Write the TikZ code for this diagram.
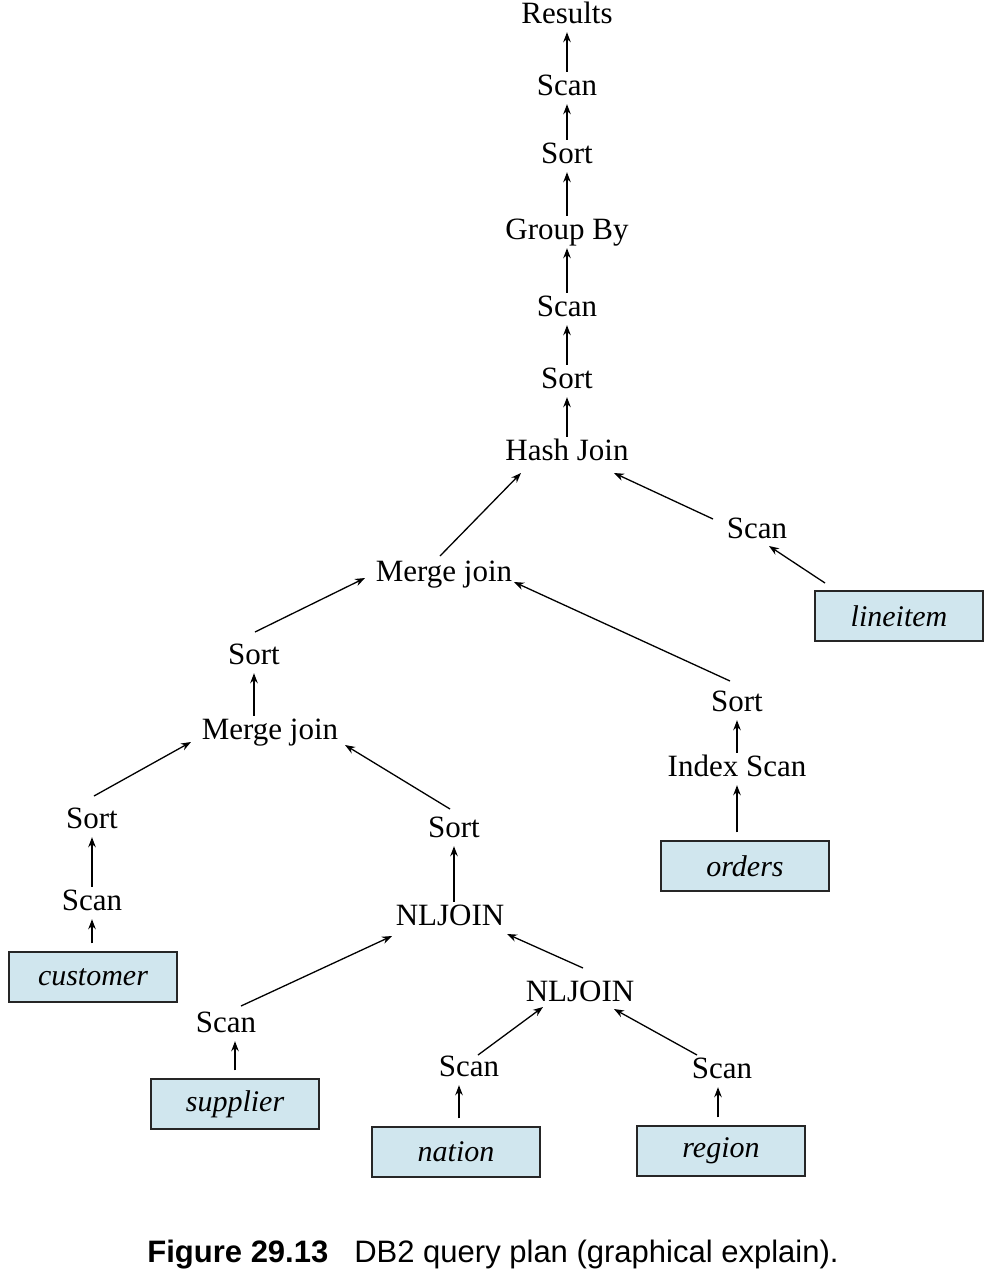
\documentclass[tikz,border=0pt]{standalone}
\usepackage{fontspec}
\setmainfont{Liberation Serif}
\setsansfont{Liberation Sans}
\usetikzlibrary{arrows.meta}
\definecolor{relblue}{HTML}{D0E6EE}
\begin{document}
\begin{tikzpicture}[
    x=1pt, y=-1pt,
    op/.style={
        inner sep=0pt,
        minimum height=32pt,
        text height=21pt,
        text depth=6pt,
        font=\fontsize{31}{36}\selectfont
    },
    rel/.style={
        rectangle,
        draw=black!85,
        line width=1.1pt,
        fill=relblue,
        minimum width=168pt,
        minimum height=50pt,
        font=\fontsize{30}{35}\selectfont\itshape
    },
    arr/.style={->, >={Stealth[length=10pt,width=7.5pt]}, line width=1.3pt},
    fromrel/.style={arr, shorten <=8pt}
]
\useasboundingbox (0,0) rectangle (992,1280);

% main chain
\node[op] (res) at (567,16) {Results};
\node[op] (sc1) at (567,88) {Scan};
\node[op] (so1) at (567,156) {Sort};
\node[op] (grp) at (567,232) {Group By};
\node[op] (sc2) at (567,309) {Scan};
\node[op] (so2) at (567,381) {Sort};
\node[op] (hj) at (567,453) {Hash Join};

% lineitem side
\node[op] (scl) at (757,531) {Scan};
\node[rel] (lin) at (899,616) {lineitem};

% merge joins
\node[op] (mj1) at (444,574) {Merge join};
\node[op] (so3) at (254,657) {Sort};
\node[op] (mj2) at (270,732) {Merge join};

% orders side
\node[op] (soo) at (737,704) {Sort};
\node[op] (isc) at (737,769) {Index Scan};
\node[rel] (ord) at (745,866) {orders};

% customer side
\node[op] (sol) at (92,821) {Sort};
\node[op] (scc) at (92,903) {Scan};
\node[rel] (cus) at (93,977) {customer};

% nested loop joins
\node[op] (sor) at (454,830) {Sort};
\node[op] (nl1) at (450,918) {NLJOIN};
\node[op] (scs) at (226,1025) {Scan};
\node[rel] (sup) at (235,1104) {supplier};
\node[op] (nl2) at (580,994) {NLJOIN};
\node[op] (scn) at (469,1069) {Scan};
\node[rel] (nat) at (456,1152) {nation};
\node[op] (scr) at (722,1071) {Scan};
\node[rel] (reg) at (721,1151) {region};

% vertical arrows
\draw[arr] (sc1) -- (res);
\draw[arr] (so1) -- (sc1);
\draw[arr] (grp) -- (so1);
\draw[arr] (sc2) -- (grp);
\draw[arr] (so2) -- (sc2);
\draw[arr] (hj) -- (so2);
\draw[arr] (mj2.north -| so3) -- (so3.south);
\draw[arr] (isc) -- (soo);
\draw[fromrel] (ord.north -| isc) -- (isc.south);
\draw[arr] (scc) -- (sol);
\draw[fromrel] (cus.north -| scc) -- (scc.south);
\draw[arr] (nl1.north -| sor) -- (sor.south);
\draw[fromrel] (sup.north) -- (sup.north |- scs.south);
\draw[fromrel] ([xshift=3pt]nat.north) -- ([xshift=3pt]nat.north |- scn.south);
\draw[fromrel] ([xshift=-3pt]reg.north) -- ([xshift=-3pt]reg.north |- scr.south);

% slanted arrows
\draw[arr] ([shift={(-4,-18)}]mj1.center) -- ([shift={(-46,20)}]hj.center);
\draw[arr] ([shift={(-44,-12)}]scl.center) -- ([shift={(47,20)}]hj.center);
\draw[arr] ([shift={(-74,-33)}]lin.center) -- ([shift={(12,15)}]scl.center);
\draw[arr] ([shift={(1,-25)}]so3.center) -- ([shift={(-79,4)}]mj1.center);
\draw[arr] ([shift={(-7,-23)}]soo.center) -- ([shift={(70,8)}]mj1.center);
\draw[arr] ([shift={(2,-25)}]sol.center) -- ([shift={(-79,10)}]mj2.center);
\draw[arr] ([shift={(-4,-21)}]sor.center) -- ([shift={(75,13)}]mj2.center);
\draw[arr] ([shift={(15,-19)}]scs.center) -- ([shift={(-58,18)}]nl1.center);
\draw[arr] ([shift={(3,-26)}]nl2.center) -- ([shift={(57,16)}]nl1.center);
\draw[arr] ([shift={(9,-14)}]scn.center) -- ([shift={(-37,13)}]nl2.center);
\draw[arr] ([shift={(-25,-16)}]scr.center) -- ([shift={(34,15)}]nl2.center);

% caption
\node[font=\fontsize{31}{37}\selectfont\sffamily] (cap) at (493,1255)
    {\textbf{Figure 29.13}\hspace{26pt}DB2 query plan (graphical explain).};
\end{tikzpicture}
\end{document}
